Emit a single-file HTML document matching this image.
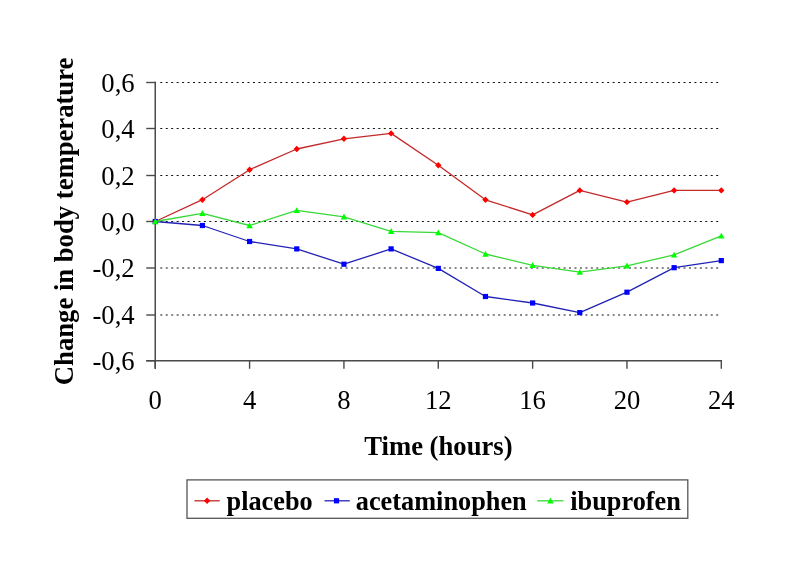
<!DOCTYPE html><html><head><meta charset="utf-8"><style>html,body{margin:0;padding:0;background:#fff;width:785px;height:588px;overflow:hidden}svg{display:block;will-change:transform}text{font-family:"Liberation Serif", serif}</style></head><body>
<svg width="785" height="588" viewBox="0 0 785 588">
<rect width="785" height="588" fill="#fff"/>
<line x1="160.3" y1="82.50" x2="718.5" y2="82.50" stroke="#111" stroke-width="1.00" stroke-dasharray="2 3.45"/>
<line x1="160.3" y1="128.50" x2="718.5" y2="128.50" stroke="#111" stroke-width="1.00" stroke-dasharray="2 3.45"/>
<line x1="160.3" y1="175.50" x2="718.5" y2="175.50" stroke="#111" stroke-width="1.00" stroke-dasharray="2 3.45"/>
<line x1="160.3" y1="221.50" x2="718.5" y2="221.50" stroke="#111" stroke-width="1.00" stroke-dasharray="2 3.45"/>
<line x1="160.3" y1="268.00" x2="718.5" y2="268.00" stroke="#111" stroke-width="1.15" stroke-dasharray="2 3.45"/>
<line x1="160.3" y1="315.00" x2="718.5" y2="315.00" stroke="#111" stroke-width="1.15" stroke-dasharray="2 3.45"/>
<line x1="155.25" y1="81.80" x2="155.25" y2="368.75" stroke="#4a4a4a" stroke-width="1.5"/>
<line x1="146.25" y1="82.50" x2="156.00" y2="82.50" stroke="#4a4a4a" stroke-width="1.4"/>
<line x1="146.25" y1="128.50" x2="156.00" y2="128.50" stroke="#4a4a4a" stroke-width="1.4"/>
<line x1="146.25" y1="175.50" x2="156.00" y2="175.50" stroke="#4a4a4a" stroke-width="1.4"/>
<line x1="146.25" y1="221.50" x2="156.00" y2="221.50" stroke="#4a4a4a" stroke-width="1.4"/>
<line x1="146.25" y1="268.00" x2="156.00" y2="268.00" stroke="#4a4a4a" stroke-width="1.4"/>
<line x1="146.25" y1="315.00" x2="156.00" y2="315.00" stroke="#4a4a4a" stroke-width="1.4"/>
<line x1="146.25" y1="360.75" x2="156.00" y2="360.75" stroke="#4a4a4a" stroke-width="1.4"/>
<line x1="146.25" y1="360.75" x2="722.05" y2="360.75" stroke="#4a4a4a" stroke-width="1.4"/>
<line x1="155.25" y1="360.05" x2="155.25" y2="368.75" stroke="#4a4a4a" stroke-width="1.4"/>
<line x1="249.59" y1="360.05" x2="249.59" y2="368.75" stroke="#4a4a4a" stroke-width="1.4"/>
<line x1="343.93" y1="360.05" x2="343.93" y2="368.75" stroke="#4a4a4a" stroke-width="1.4"/>
<line x1="438.27" y1="360.05" x2="438.27" y2="368.75" stroke="#4a4a4a" stroke-width="1.4"/>
<line x1="532.62" y1="360.05" x2="532.62" y2="368.75" stroke="#4a4a4a" stroke-width="1.4"/>
<line x1="626.96" y1="360.05" x2="626.96" y2="368.75" stroke="#4a4a4a" stroke-width="1.4"/>
<line x1="721.30" y1="360.05" x2="721.30" y2="368.75" stroke="#4a4a4a" stroke-width="1.4"/>
<text x="134.7" y="91.50" font-size="26.67" text-anchor="end" fill="#000">0,6</text>
<text x="134.7" y="137.50" font-size="26.67" text-anchor="end" fill="#000">0,4</text>
<text x="134.7" y="184.50" font-size="26.67" text-anchor="end" fill="#000">0,2</text>
<text x="134.7" y="230.50" font-size="26.67" text-anchor="end" fill="#000">0,0</text>
<text x="134.7" y="277.00" font-size="26.67" text-anchor="end" fill="#000">-0,2</text>
<text x="134.7" y="324.00" font-size="26.67" text-anchor="end" fill="#000">-0,4</text>
<text x="134.7" y="369.75" font-size="26.67" text-anchor="end" fill="#000">-0,6</text>
<text x="155.25" y="408.5" font-size="26.67" text-anchor="middle" fill="#000">0</text>
<text x="249.59" y="408.5" font-size="26.67" text-anchor="middle" fill="#000">4</text>
<text x="343.93" y="408.5" font-size="26.67" text-anchor="middle" fill="#000">8</text>
<text x="438.27" y="408.5" font-size="26.67" text-anchor="middle" fill="#000">12</text>
<text x="532.62" y="408.5" font-size="26.67" text-anchor="middle" fill="#000">16</text>
<text x="626.96" y="408.5" font-size="26.67" text-anchor="middle" fill="#000">20</text>
<text x="721.30" y="408.5" font-size="26.67" text-anchor="middle" fill="#000">24</text>
<text x="438.4" y="455.2" font-size="26.67" font-weight="bold" text-anchor="middle" fill="#000">Time (hours)</text>
<text x="0" y="0" transform="translate(73.3,221.4) rotate(-90)" font-size="26.67" font-weight="bold" text-anchor="middle" fill="#000">Change in body temperature</text>
<polyline points="155.25,221.50 202.42,199.70 249.59,169.70 296.76,149.00 343.93,138.80 391.10,133.40 438.27,165.20 485.45,199.80 532.62,214.90 579.79,190.40 626.96,202.10 674.13,190.40 721.30,190.40" fill="none" stroke="#c42828" stroke-width="1.30" stroke-linejoin="round"/>
<path d="M155.25 218.30L158.45 221.50L155.25 224.70L152.05 221.50Z" fill="#ff0000"/>
<path d="M202.42 196.50L205.62 199.70L202.42 202.90L199.22 199.70Z" fill="#ff0000"/>
<path d="M249.59 166.50L252.79 169.70L249.59 172.90L246.39 169.70Z" fill="#ff0000"/>
<path d="M296.76 145.80L299.96 149.00L296.76 152.20L293.56 149.00Z" fill="#ff0000"/>
<path d="M343.93 135.60L347.13 138.80L343.93 142.00L340.73 138.80Z" fill="#ff0000"/>
<path d="M391.10 130.20L394.30 133.40L391.10 136.60L387.90 133.40Z" fill="#ff0000"/>
<path d="M438.27 162.00L441.47 165.20L438.27 168.40L435.07 165.20Z" fill="#ff0000"/>
<path d="M485.45 196.60L488.65 199.80L485.45 203.00L482.25 199.80Z" fill="#ff0000"/>
<path d="M532.62 211.70L535.82 214.90L532.62 218.10L529.42 214.90Z" fill="#ff0000"/>
<path d="M579.79 187.20L582.99 190.40L579.79 193.60L576.59 190.40Z" fill="#ff0000"/>
<path d="M626.96 198.90L630.16 202.10L626.96 205.30L623.76 202.10Z" fill="#ff0000"/>
<path d="M674.13 187.20L677.33 190.40L674.13 193.60L670.93 190.40Z" fill="#ff0000"/>
<path d="M721.30 187.20L724.50 190.40L721.30 193.60L718.10 190.40Z" fill="#ff0000"/>
<polyline points="155.25,221.50 202.42,225.50 249.59,241.50 296.76,248.90 343.93,264.20 391.10,248.90 438.27,268.40 485.45,296.50 532.62,303.00 579.79,312.60 626.96,292.20 674.13,267.70 721.30,260.60" fill="none" stroke="#2222b4" stroke-width="1.30" stroke-linejoin="round"/>
<rect x="152.65" y="218.90" width="5.20" height="5.20" fill="#0000ff"/>
<rect x="199.82" y="222.90" width="5.20" height="5.20" fill="#0000ff"/>
<rect x="246.99" y="238.90" width="5.20" height="5.20" fill="#0000ff"/>
<rect x="294.16" y="246.30" width="5.20" height="5.20" fill="#0000ff"/>
<rect x="341.33" y="261.60" width="5.20" height="5.20" fill="#0000ff"/>
<rect x="388.50" y="246.30" width="5.20" height="5.20" fill="#0000ff"/>
<rect x="435.67" y="265.80" width="5.20" height="5.20" fill="#0000ff"/>
<rect x="482.85" y="293.90" width="5.20" height="5.20" fill="#0000ff"/>
<rect x="530.02" y="300.40" width="5.20" height="5.20" fill="#0000ff"/>
<rect x="577.19" y="310.00" width="5.20" height="5.20" fill="#0000ff"/>
<rect x="624.36" y="289.60" width="5.20" height="5.20" fill="#0000ff"/>
<rect x="671.53" y="265.10" width="5.20" height="5.20" fill="#0000ff"/>
<rect x="718.70" y="258.00" width="5.20" height="5.20" fill="#0000ff"/>
<polyline points="155.25,221.50 202.42,213.30 249.59,225.50 296.76,210.40 343.93,216.80 391.10,231.30 438.27,232.60 485.45,254.00 532.62,265.30 579.79,272.10 626.96,265.80 674.13,254.90 721.30,235.90" fill="none" stroke="#38d838" stroke-width="1.30" stroke-linejoin="round"/>
<path d="M155.25 218.30L158.45 224.22L152.05 224.22Z" fill="#00ff00"/>
<path d="M202.42 210.10L205.62 216.02L199.22 216.02Z" fill="#00ff00"/>
<path d="M249.59 222.30L252.79 228.22L246.39 228.22Z" fill="#00ff00"/>
<path d="M296.76 207.20L299.96 213.12L293.56 213.12Z" fill="#00ff00"/>
<path d="M343.93 213.60L347.13 219.52L340.73 219.52Z" fill="#00ff00"/>
<path d="M391.10 228.10L394.30 234.02L387.90 234.02Z" fill="#00ff00"/>
<path d="M438.27 229.40L441.47 235.32L435.07 235.32Z" fill="#00ff00"/>
<path d="M485.45 250.80L488.65 256.72L482.25 256.72Z" fill="#00ff00"/>
<path d="M532.62 262.10L535.82 268.02L529.42 268.02Z" fill="#00ff00"/>
<path d="M579.79 268.90L582.99 274.82L576.59 274.82Z" fill="#00ff00"/>
<path d="M626.96 262.60L630.16 268.52L623.76 268.52Z" fill="#00ff00"/>
<path d="M674.13 251.70L677.33 257.62L670.93 257.62Z" fill="#00ff00"/>
<path d="M721.30 232.70L724.50 238.62L718.10 238.62Z" fill="#00ff00"/>
<rect x="187" y="479.9" width="500.8" height="38.4" fill="none" stroke="#555" stroke-width="1.3"/>
<line x1="194.4" y1="500.80" x2="219.8" y2="500.80" stroke="#c42828" stroke-width="1.30"/>
<path d="M207.10 497.60L210.30 500.80L207.10 504.00L203.90 500.80Z" fill="#ff0000"/>
<line x1="324.5" y1="500.80" x2="349.8" y2="500.80" stroke="#2222b4" stroke-width="1.30"/>
<rect x="333.90" y="498.20" width="5.20" height="5.20" fill="#0000ff"/>
<line x1="537.3" y1="500.80" x2="563.5" y2="500.80" stroke="#38d838" stroke-width="1.30"/>
<path d="M550.40 497.60L553.60 503.52L547.20 503.52Z" fill="#00ff00"/>
<text x="226.5" y="509.7" font-size="26.30" font-weight="bold" fill="#000">placebo</text>
<text x="355.8" y="509.7" font-size="26.30" font-weight="bold" fill="#000">acetaminophen</text>
<text x="570.3" y="509.7" font-size="26.30" font-weight="bold" fill="#000">ibuprofen</text>
</svg></body></html>
